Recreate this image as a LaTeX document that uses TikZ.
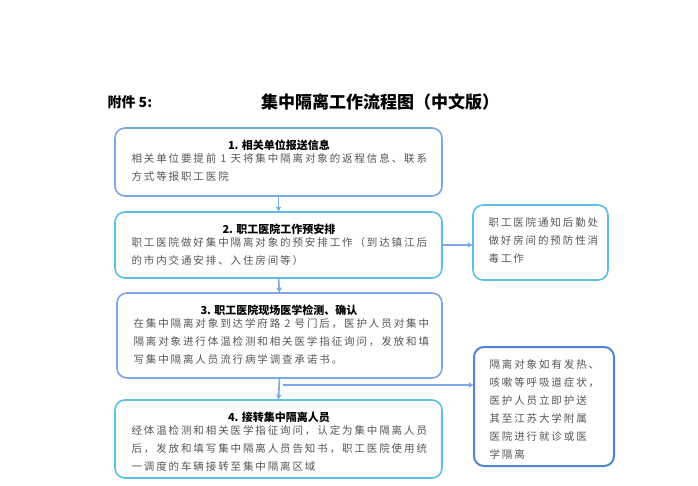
\documentclass[tikz,border=0pt]{standalone}
\usepackage{fontspec}
\setmainfont{Noto Sans CJK SC}
\newfontfamily\spaced[LetterSpace=18]{Noto Sans CJK SC}
\usetikzlibrary{arrows.meta}
\definecolor{bA}{HTML}{7AA7E6}
\definecolor{bB}{HTML}{5CC0E6}
\definecolor{bC}{HTML}{4F86D0}
\definecolor{txt}{HTML}{555555}
\tikzset{
  box/.style={draw=#1, line width=1.6pt, rounded corners=10pt, inner sep=0pt},
  body/.style={text=txt, font=\spaced\fontsize{10.5}{18}\selectfont, align=left, anchor=north west},
  head/.style={font=\bfseries\fontsize{11}{14}\selectfont, anchor=north},
  conn/.style={draw=bA, line width=1.6pt, -{Latex[length=5pt,width=6pt]}}
}
\begin{document}
\begin{tikzpicture}[x=1pt,y=-1pt]
\useasboundingbox (0,0) rectangle (698,486);
\node[font=\bfseries\fontsize{14}{16}\selectfont, anchor=west] (ann) at (104,102) {附件 5:};
\node[font=\bfseries\fontsize{17}{19}\selectfont] (title) at (380,102) {集中隔离工作流程图（中文版）};
% box 1
\draw[box=bA] (115,128) rectangle (442,196);
\node (b1) at (278.5,162) [minimum width=327pt, minimum height=68pt] {};
\node[head] (h1) at (279,136) {1. 相关单位报送信息};
\node[body] (t1) at (128,150) {相关单位要提前 1 天将集中隔离对象的返程信息、联系\\方式等报职工医院};
% box 2
\draw[box=bB] (115,212) rectangle (442,278);
\node (b2) at (278.5,245) [minimum width=327pt, minimum height=66pt] {};
\node[head] (h2) at (279,220) {2. 职工医院工作预安排};
\node[body] (t2) at (128,234) {职工医院做好集中隔离对象的预安排工作（到达镇江后\\的市内交通安排、入住房间等）};
% box 3
\draw[box=bA] (117,293) rectangle (442,378);
\node (b3) at (279.5,335.5) [minimum width=325pt, minimum height=85pt] {};
\node[head] (h3) at (279,301) {3. 职工医院现场医学检测、确认};
\node[body] (t3) at (130,315) {在集中隔离对象到达学府路 2 号门后，医护人员对集中\\隔离对象进行体温检测和相关医学指征询问，发放和填\\写集中隔离人员流行病学调查承诺书。};
% box 4
\draw[box=bB] (115,400) rectangle (442,478);
\node (b4) at (278.5,439) [minimum width=327pt, minimum height=78pt] {};
\node[head] (h4) at (279,408) {4. 接转集中隔离人员};
\node[body] (t4) at (128,422) {经体温检测和相关医学指征询问，认定为集中隔离人员\\后，发放和填写集中隔离人员告知书，职工医院使用统\\一调度的车辆接转至集中隔离区域};
% right boxes
\draw[box=bB] (473,205) rectangle (608,280);
\node (r1) at (540.5,242.5) [minimum width=135pt, minimum height=75pt] {};
\node[body] (rt1) at (485,214) {职工医院通知后勤处\\做好房间的预防性消\\毒工作};
\draw[box=bC, line width=2pt] (474,347) rectangle (614,466);
\node (r2) at (544,406.5) [minimum width=140pt, minimum height=119pt] {};
\node[body] (rt2) at (486,356) {隔离对象如有发热、\\咳嗽等呼吸道症状，\\医护人员立即护送\\其至江苏大学附属\\医院进行就诊或医\\学隔离};
% connectors
\draw[conn] (b1.south) -- (b2.north);
\draw[conn] (b2.south) -- (b3.north);
\draw[conn] (b3.south) -- (b4.north);
\draw[conn] (b2.east) -- (b2.east -| r1.west);
\coordinate (j) at (283,385);
\draw[conn] (j) -- (j -| r2.west);
\end{tikzpicture}
\end{document}
